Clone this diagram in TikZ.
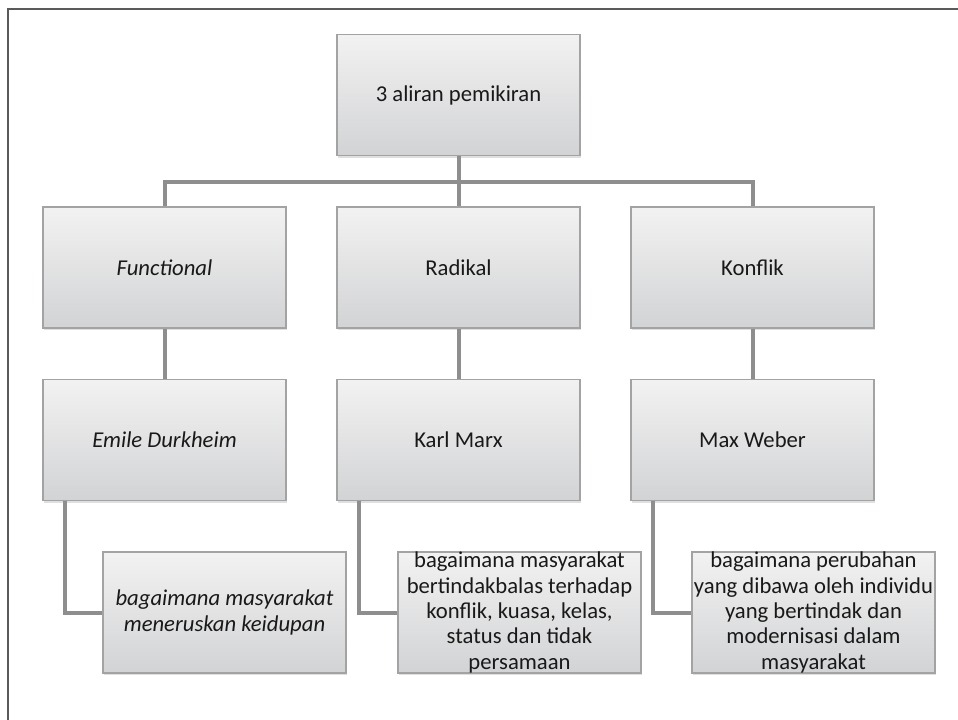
\documentclass[tikz,border=0pt]{standalone}
\usepackage{fontspec}
\setmainfont{Carlito}
\usepackage{tikz}
\usetikzlibrary{positioning, shadows}
\definecolor{boxtop}{HTML}{F2F2F2}
\definecolor{boxbot}{HTML}{D2D3D5}
\definecolor{boxline}{HTML}{A3A3A3}
\definecolor{linkgray}{HTML}{8E8E8E}
\definecolor{framegray}{HTML}{5A5A5A}
\tikzset{
  topic/.style={
    draw=boxline, rectangle, line width=1.1pt,
    minimum width=182pt, minimum height=91pt,
    top color=boxtop, bottom color=boxbot,
    drop shadow={shadow xshift=0.8pt, shadow yshift=-1.4pt, opacity=0.25},
    font=\fontsize{17}{19}\selectfont, text=black!90,
    inner sep=0pt, align=center
  },
  leaf/.style={topic},
  link/.style={draw=linkgray, line width=3pt},
  frame/.style={draw=framegray, line width=1.4pt},
}
\begin{document}
\begin{tikzpicture}[x=0.75pt, y=-0.75pt]
  \useasboundingbox (0,0) rectangle (958,720);
  \draw[frame] (8,720) -- (8,9) -- (958,9);
  % top level
  \node[topic] (root) at (458.5, 95) {3 aliran pemikiran};
  % streams
  \node[topic] (func) at (164.5, 267.5) {\itshape Functional};
  \node[topic] (radi) at (458.5, 267.5) {Radikal};
  \node[topic] (konf) at (752.5, 267.5) {Konflik};
  % thinkers
  \node[topic] (durk) at (164.5, 440) {\itshape Emile Durkheim};
  \node[topic] (marx) at (458.5, 440) {Karl Marx};
  \node[topic] (webr) at (752.5, 440) {Max Weber};
  % notes
  \node[leaf] (ndurk) at (224.5, 612.5)
    {\itshape bagaimana masyarakat\\\itshape meneruskan keidupan};
  \node[leaf] (nmarx) at (519.5, 612.5)
    {bagaimana masyarakat\\bertindakbalas terhadap\\konflik, kuasa, kelas,\\status dan tidak\\persamaan};
  \node[leaf] (nwebr) at (813.5, 612.5)
    {bagaimana perubahan\\yang dibawa oleh individu\\yang bertindak dan\\modernisasi dalam\\masyarakat};
  % connectors
  \coordinate (bus) at (458.5, 182);
  \draw[link] (root.south) -- (radi.north);
  \draw[link] (func.north) |- (bus) -| (konf.north);
  \draw[link] (func.south) -- (durk.north);
  \draw[link] (radi.south) -- (marx.north);
  \draw[link] (konf.south) -- (webr.north);
  \draw[link] ([xshift=17pt]durk.south west) |- (ndurk.west);
  \draw[link] ([xshift=17pt]marx.south west) |- (nmarx.west);
  \draw[link] ([xshift=17pt]webr.south west) |- (nwebr.west);
\end{tikzpicture}
\end{document}
